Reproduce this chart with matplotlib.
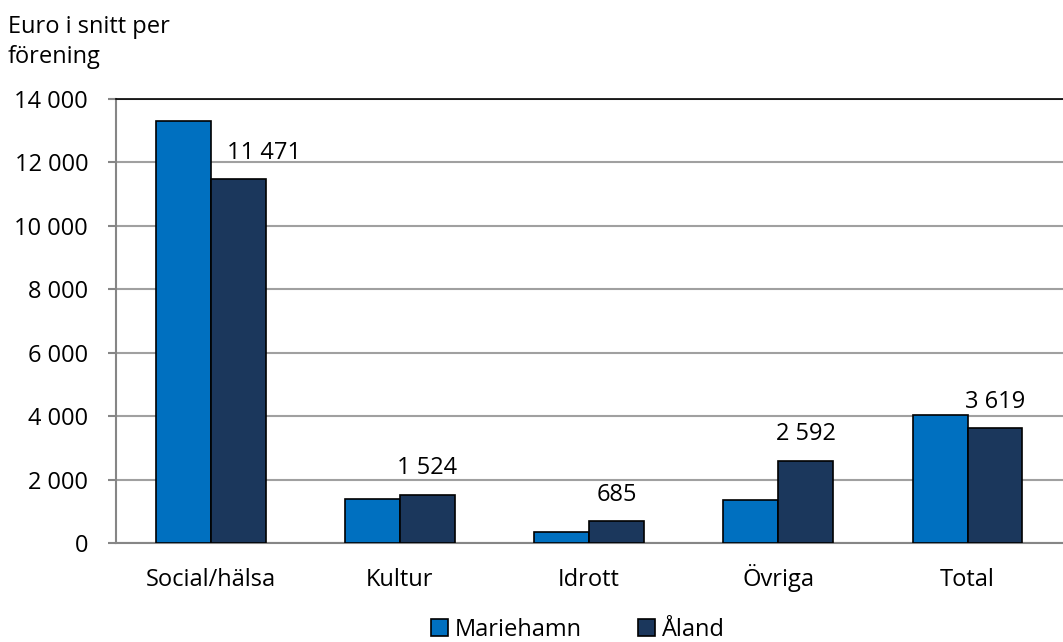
import matplotlib
matplotlib.use("Agg")
import matplotlib.pyplot as plt
import numpy as np

categories = ["Social/hälsa", "Kultur", "Idrott", "Övriga", "Total"]
mariehamn = [13300, 1400, 350, 1370, 4050]
aland = [11471, 1524, 685, 2592, 3619]
aland_labels = ["11 471", "1 524", "685", "2 592", "3 619"]
yticks = [0, 2000, 4000, 6000, 8000, 10000, 12000, 14000]
ytick_labels = ["0", "2 000", "4 000", "6 000", "8 000", "10 000", "12 000", "14 000"]

plt.rcParams['font.family'] = ['Open Sans', 'DejaVu Sans']
FS = 17

fig = plt.figure(figsize=(10.63, 6.42), dpi=100)
ax = fig.add_axes([116/1063, 99/642, 950/1063, 444/642])

x = np.arange(len(categories))
w = 0.29
c1 = "#0070C0"
c2 = "#1B375C"
ax.bar(x - w/2, mariehamn, w, color=c1, edgecolor="black", linewidth=1.2, label="Mariehamn", zorder=3)
ax.bar(x + w/2, aland, w, color=c2, edgecolor="black", linewidth=1.2, label="Åland", zorder=3)

for i, (v, lab) in enumerate(zip(aland, aland_labels)):
    dx = 19 if i == 0 else 0
    ax.annotate(lab, (x[i] + w/2, v), xytext=(dx, 19), textcoords="offset points",
                ha="center", va="center", fontsize=FS, color="black")

ax.set_xlim(-0.5, len(categories) - 0.5 + 0.02)
ax.set_ylim(0, 14000)
ax.set_yticks(yticks)
ax.set_yticklabels(ytick_labels, fontsize=FS)
ax.set_xticks(x)
ax.set_xticklabels(categories, fontsize=FS, va="baseline")
ax.tick_params(axis="x", length=0, pad=31)
ax.tick_params(axis="y", length=6, width=1.5, color="#868686", pad=14)
ax.yaxis.grid(True, color="#A0A0A0", linewidth=1.5, zorder=0)
ax.set_axisbelow(True)
for s in ["left", "bottom"]:
    ax.spines[s].set_color("#868686")
    ax.spines[s].set_linewidth(1.5)
ax.spines["top"].set_color("black")
ax.spines["top"].set_linewidth(1.2)
ax.spines["right"].set_visible(False)

fig.text(8/1063, 1 - 42/642, "Euro i snitt per\nförening", fontsize=FS, ha="left", va="center",
         linespacing=1.38)

leg = fig.legend(loc="center", bbox_to_anchor=(578/1063, 1 - 630/642), ncol=2, frameon=False,
                 fontsize=FS, handlelength=0.7, handleheight=0.7, handletextpad=0.3,
                 columnspacing=2.4)

fig.savefig("out.png", dpi=100)
